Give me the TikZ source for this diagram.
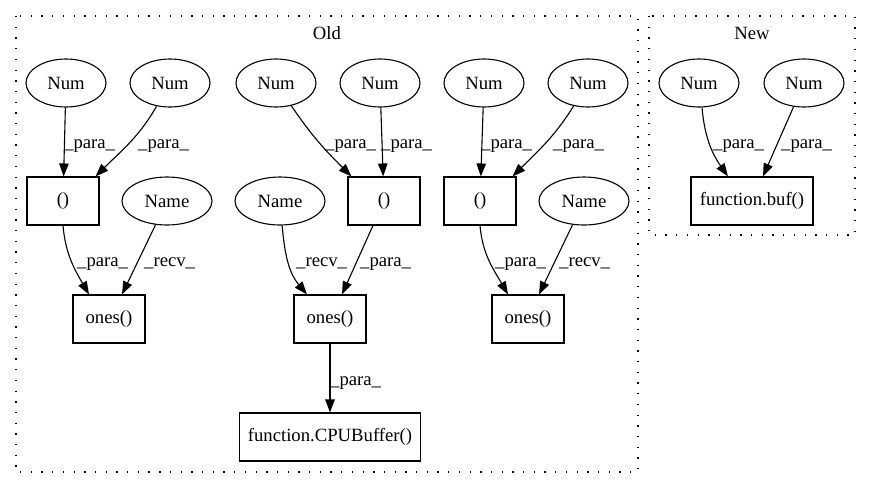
\documentclass[tikz,border=0pt]{standalone}
\usepackage{fontspec}
\setmainfont{Liberation Serif}
\usetikzlibrary{shapes.geometric,arrows.meta,calc}
\begin{document}
\begin{tikzpicture}[x=1pt,y=-1pt,
  every node/.style={font=\fontsize{18.7}{22}\selectfont},
  numnode/.style={draw, ellipse, line width=1.1pt, minimum width=80pt, minimum height=48pt, inner sep=0pt},
  namenode/.style={numnode, minimum width=90pt},
  boxnode/.style={draw, rectangle, line width=1.1pt, minimum width=72pt, minimum height=48pt, inner sep=0pt},
  edge/.style={line width=1.1pt, -{Triangle[length=13pt,width=9.5pt]}},
  elabel/.style={anchor=base west, inner sep=0pt},
  cluster/.style={draw, line width=1.3pt, dash pattern=on 1.3pt off 9.4pt}]
\useasboundingbox (0,0) rectangle (871,488);
% clusters
\draw[cluster] (16,16) rectangle (638,472);
\draw[cluster] (649,16) rectangle (855,235);
\node (told) at (327,33) {Old};
\node (tnew) at (752,33) {New};
% nodes
\node[numnode] (n1) at (66,83) {Num};
\node[numnode] (n2) at (170,83) {Num};
\node[numnode] (n3) at (276,83) {Num};
\node[numnode] (n4) at (380,83) {Num};
\node[numnode] (n5) at (484,83) {Num};
\node[numnode] (n6) at (588,83) {Num};
\node[numnode] (n7) at (699,83) {Num};
\node[numnode] (n8) at (804,83) {Num};
\node[boxnode] (b1) at (63,201) {()};
\node[boxnode] (b2) at (384,201) {()};
\node[boxnode] (b3) at (480,201) {()};
\node[namenode] (m1) at (167,201) {Name};
\node[namenode] (m2) at (280,201) {Name};
\node[namenode] (m3) at (584,201) {Name};
\node[boxnode] (o1) at (109,319) {ones()};
\node[boxnode] (o2) at (330,319) {ones()};
\node[boxnode] (o3) at (528,319) {ones()};
\node[boxnode, minimum width=181pt] (cpu) at (330,437) {function.CPUBuffer()};
\node[boxnode, minimum width=122pt] (buf) at (752,201) {function.buf()};
% edges
\draw[edge] (n1) -- (b1);
\draw[edge] (n2.-120) to[out=-120,in=45] ($(b1.north east)+(-4,0)$);
\draw[edge] (b1.south) to[out=-85,in=120] ($(o1.north)+(-20,0)$);
\draw[edge] (m1) -- ($(o1.north)+(13,0)$);
\draw[edge] (n3.-56) to[out=-56,in=135] ($(b2.north west)+(4,0)$);
\draw[edge] (n4) -- (b2);
\draw[edge] (m2.-85) to[out=-85,in=130] ($(o2.north)+(-23,0)$);
\draw[edge] (b2) -- ($(o2.north)+(12,0)$);
\draw[edge] (o2) -- (cpu);
\draw[edge] (n5) -- (b3);
\draw[edge] (n6.-122) to[out=-122,in=45] ($(b3.north east)+(-4,0)$);
\draw[edge] (b3.south) to[out=-85,in=120] ($(o3.north)+(-20,0)$);
\draw[edge] (m3) -- ($(o3.north)+(11,0)$);
\draw[edge] (n7.-83) to[out=-85,in=125] ($(buf.north)+(-24,0)$);
\draw[edge] (n8) -- ($(buf.north)+(11,0)$);
% edge labels
\node[elabel] (l1) at (64,148) {\_para\_};
\node[elabel] (l2) at (138,148) {\_para\_};
\node[elabel] (l3) at (325,148) {\_para\_};
\node[elabel] (l4) at (381,148) {\_para\_};
\node[elabel] (l5) at (481,148) {\_para\_};
\node[elabel] (l6) at (553,148) {\_para\_};
\node[elabel] (l7) at (713,148) {\_para\_};
\node[elabel] (l8) at (781,148) {\_para\_};
\node[elabel] (l9) at (77,266) {\_para\_};
\node[elabel] (l10) at (144,266) {\_recv\_};
\node[elabel] (l11) at (296,266) {\_recv\_};
\node[elabel] (l12) at (360,266) {\_para\_};
\node[elabel] (l13) at (495,266) {\_para\_};
\node[elabel] (l14) at (559,266) {\_recv\_};
\node[elabel] (l15) at (330,385) {\_para\_};
\end{tikzpicture}
\end{document}
